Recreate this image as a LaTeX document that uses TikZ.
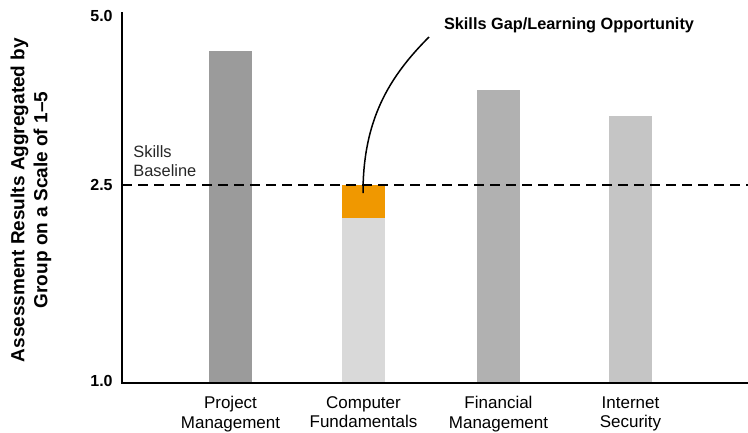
\documentclass[tikz,border=0pt]{standalone}
\usepackage{fontspec}
\setmainfont{Liberation Sans}
\usepackage{color}
\usetikzlibrary{arrows,shapes}
\definecolor{pmgray}{HTML}{9B9B9B}
\definecolor{cfgray}{HTML}{D9D9D9}
\definecolor{fmgray}{HTML}{B1B1B1}
\definecolor{isgray}{HTML}{C5C5C5}
\definecolor{gaporange}{HTML}{F09800}
\tikzstyle{catlabel} = [align=center, anchor=north, inner sep=0pt, font=\fontsize{17}{19.5}\selectfont]
\tikzstyle{ticklabel} = [anchor=east, inner sep=0pt, font=\bfseries\fontsize{16}{16}\selectfont]

\begin{document}
\begin{tikzpicture}[x=1pt, y=-1pt, thick]
        \useasboundingbox (0,0) rectangle (748,432);
        % bars
        \fill[pmgray] (209,51) rectangle (252,383);
        \fill[cfgray] (342,218) rectangle (385,383);
        \fill[gaporange] (342,185) rectangle (385,218);
        \fill[fmgray] (477,90) rectangle (520,383);
        \fill[isgray] (609,116) rectangle (652,383);
        % axes and baseline
        \draw[line width=2pt] (122,12) -- (122,383) -- (748,383);
        \draw[line width=1.6pt, dash pattern=on 10pt off 6pt] (122,185) -- (748,185);
        \path[] node[ticklabel] (top) at (113,16) {5.0};
        \path[] node[ticklabel] (mid) at (113,185) {2.5};
        \path[] node[ticklabel] (low) at (113,381) {1.0};
        \path[] node[rotate=90, align=center, font=\bfseries\fontsize{19}{23}\selectfont] (ytitle) at (31,200) {Assessment Results Aggregated by\\Group on a Scale of 1–5};
        \path[] node[align=left, anchor=north west, inner sep=0pt, text=black!85, font=\fontsize{16.4}{19}\selectfont] (baseline) at (133,145.5) {Skills\\Baseline};
        % categories
        \path[] node[catlabel] (pm) at (230.5,396) {Project\\Management};
        \path[] node[catlabel] (cf) at (363.5,396) {Computer\\Fundamentals};
        \path[] node[catlabel] (fm) at (498.5,396) {Financial\\Management};
        \path[] node[catlabel] (is) at (630.5,396) {Internet\\Security};
        % callout
        \path[] node[inner sep=0pt, font=\bfseries\fontsize{16.3}{16.3}\selectfont] (gap) at (569,25) {Skills Gap/Learning Opportunity};
        \coordinate (gapstart) at (429,37);
        \coordinate (gaptip) at (363,193);
        \draw[line width=1.5pt] (gapstart) .. controls (389,77) and (363,120) .. (gaptip);
      \end{tikzpicture}
\end{document}
